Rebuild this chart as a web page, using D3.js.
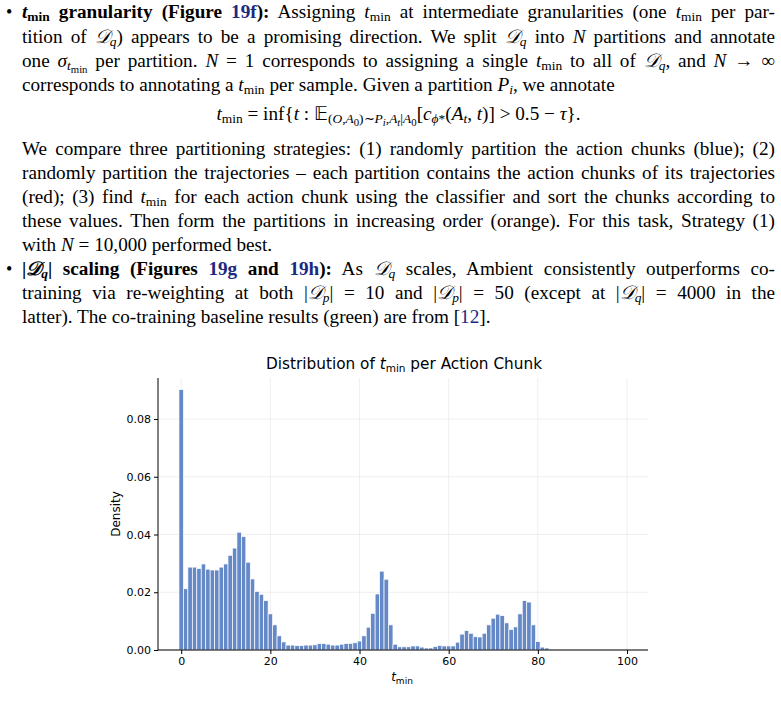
<!DOCTYPE html>
<html><head><meta charset="utf-8">
<script src="https://cdn.jsdelivr.net/npm/d3@7"></script>
<style>
body{margin:0;background:#fff;width:781px;height:708px;overflow:hidden;position:relative;}
.ln{position:absolute;left:22px;width:753px;font-family:"Liberation Serif",serif;font-size:19.2px;line-height:20px;white-space:nowrap;text-align:justify;text-align-last:justify;color:#000;}
.nj{text-align-last:left;}
.b{font-weight:bold}
.ref{color:#1a2a80}
i{font-style:italic}
sub{font-size:70%;vertical-align:-3px;line-height:0}
.bul{position:absolute;left:6px;font-family:"Liberation Serif";font-size:18px;}
svg{position:absolute;left:0;top:0}
</style></head><body>
<div id="text"></div>
<script>
// ---- data ----
const binStart = d3.range(0, 84);
const density = [0.0902,0.0212,0.0287,0.0287,0.0282,0.0298,0.0280,0.0277,0.0277,0.0287,
0.0298,0.0328,0.0353,0.0408,0.0393,0.0304,0.0246,0.0203,0.0193,0.0171,
0.0125,0.0087,0.0049,0.0028,0.0017,0.0017,0.0015,0.0015,0.0017,0.0017,
0.0018,0.0022,0.0022,0.0020,0.0017,0.0017,0.0020,0.0022,0.0023,0.0025,
0.0031,0.0049,0.0079,0.0127,0.0194,0.0273,0.0245,0.0087,0.0020,0.0011,
0.0011,0.0011,0.0014,0.0014,0.0010,0.0007,0.0007,0.0012,0.0016,0.0014,
0.0014,0.0014,0.0027,0.0055,0.0067,0.0058,0.0046,0.0045,0.0058,0.0087,
0.0110,0.0124,0.0119,0.0094,0.0071,0.0080,0.0125,0.0171,0.0166,0.0087,
0.0029,0.0010,0.0007,0.0003];
const xTicks = [0,20,40,60,80,100];
const yTicks = [0,0.02,0.04,0.06,0.08];

// ---- text ----
const tm = '<i>t</i><sub>min</sub>';
const D = s => '<i>𝒟</i><sub><i>'+s+'</i></sub>';
const lines = [
 [18,'<span class="b">'+tm+' granularity (Figure <span class="ref">19f</span>):</span> Assigning '+tm+' at intermediate granularities (one '+tm+' per par-'],
 [43,'tition of '+D('q')+') appears to be a promising direction. We split '+D('q')+' into <i>N</i> partitions and annotate'],
 [67,'one <i>σ</i><sub>'+'<i>t</i><sub style="font-size:80%">min</sub></sub> per partition. <i>N</i> = 1 corresponds to assigning a single '+tm+' to all of '+D('q')+', and <i>N</i> → ∞'],
 [91,'corresponds to annotating a '+tm+' per sample. Given a partition <i>P<sub>i</sub></i>, we annotate',true],
 [155,'We compare three partitioning strategies: (1) randomly partition the action chunks (blue); (2)'],
 [179,'randomly partition the trajectories – each partition contains the action chunks of its trajectories'],
 [203,'(red); (3) find '+tm+' for each action chunk using the classifier and sort the chunks according to'],
 [227,'these values. Then form the partitions in increasing order (orange). For this task, Strategy (1)'],
 [251,'with <i>N</i> = 10,000 performed best.',true],
 [275,'<span class="b">|'+D('q')+'| scaling (Figures <span class="ref">19g</span> and <span class="ref">19h</span>):</span> As '+D('q')+' scales, Ambient consistently outperforms co-'],
 [299,'training via re-weighting at both |'+D('p')+'| = 10 and |'+D('p')+'| = 50 (except at |'+D('q')+'| = 4000 in the'],
 [323,'latter). The co-training baseline results (green) are from [<span class="ref">12</span>].',true]
];
const T = d3.select('#text');
lines.forEach(([y,h,nj])=>{
  T.append('div').attr('class','ln'+(nj?' nj':'')).style('top',(y-16)+'px').html(h);
});
[18,275].forEach(y=>T.append('div').attr('class','bul').style('top',(y-16)+'px').text('•'));
T.append('div').attr('class','ln nj').style('top','104px').style('text-align','center').style('text-align-last','center')
 .html(tm+' = inf{<i>t</i> : 𝔼<sub>(<i>O</i>,<i>A</i><sub style="font-size:80%">0</sub>)∼<i>P<sub style="font-size:80%">i</sub></i>,<i>A<sub style="font-size:80%">t</sub></i>|<i>A</i><sub style="font-size:80%">0</sub></sub>[<i>c</i><sub><i>ϕ</i>*</sub>(<i>A<sub>t</sub></i>, <i>t</i>)] &gt; 0.5 − <i>τ</i>}.');

// ---- chart ----
const svg = d3.select('body').append('svg').attr('width',781).attr('height',708);
const x = d3.scaleLinear().domain([-5.2,104.7]).range([158,648]);
const y = d3.scaleLinear().domain([0,0.0942]).range([650,378]);
const font = '"DejaVu Sans",sans-serif';
const g = svg.append('g');
g.selectAll('.gx').data(xTicks).join('line').attr('x1',d=>x(d)).attr('x2',d=>x(d)).attr('y1',378).attr('y2',650).attr('stroke','#ebebeb').attr('stroke-width',0.8);
g.selectAll('.gy').data(yTicks).join('line').attr('x1',158).attr('x2',648).attr('y1',d=>y(d)).attr('y2',d=>y(d)).attr('stroke','#ebebeb').attr('stroke-width',0.8);
g.selectAll('rect').data(binStart).join('rect')
 .attr('x',d=>x(d-0.5)).attr('width',x(1)-x(0)).attr('y',(d,i)=>y(density[i])).attr('height',(d,i)=>650-y(density[i]))
 .attr('fill','#6588c6').attr('stroke','#fff').attr('stroke-width',0.7);
const xa = svg.append('g').attr('transform','translate(0,650)').call(d3.axisBottom(x).tickValues(xTicks).tickSize(4).tickFormat(d3.format('d')));
const ya = svg.append('g').attr('transform','translate(158,0)').call(d3.axisLeft(y).tickValues(yTicks).tickSize(4).tickFormat(d3.format('.2f')));
[xa,ya].forEach(a=>{a.select('.domain').attr('stroke','#000').attr('stroke-width',1);a.selectAll('text').attr('font-family',font).attr('font-size',11).attr('fill','#000');});
xa.select('.domain').attr('d','M158,0H648');
ya.select('.domain').attr('d','M0,378V650');
svg.append('text').attr('x',404).attr('y',369).attr('text-anchor','middle').attr('font-family',font).attr('font-size',15.3)
 .html('Distribution of <tspan font-style="italic">t</tspan><tspan font-size="10.5" dy="3">min</tspan><tspan dy="-3"> per Action Chunk</tspan>');
svg.append('text').attr('transform','translate(120,514) rotate(-90)').attr('text-anchor','middle').attr('font-family',font).attr('font-size',12).text('Density');
svg.append('text').attr('x',402).attr('y',681).attr('text-anchor','middle').attr('font-family',font).attr('font-size',12)
 .html('<tspan font-style="italic">t</tspan><tspan font-size="9" dy="3">min</tspan>');
</script></body></html>
